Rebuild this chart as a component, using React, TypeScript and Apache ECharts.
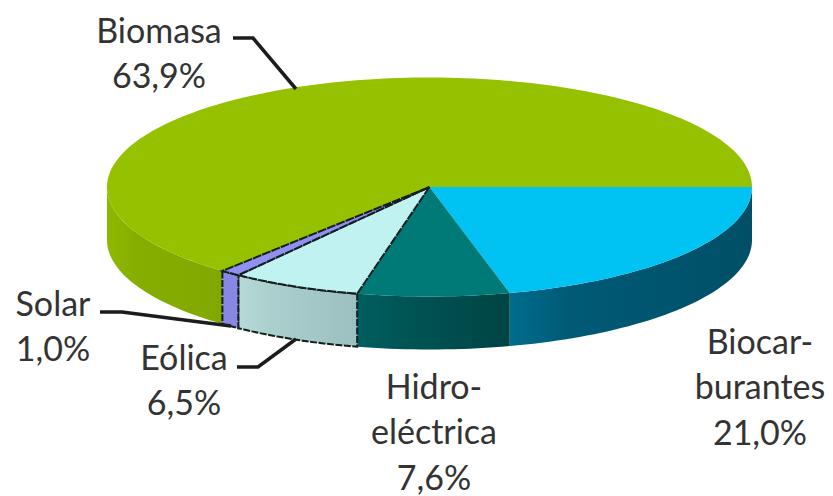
import React, { useEffect, useRef } from "react";
import * as echarts from "echarts";

// Share of each renewable source, in percent, clockwise from Biomasa.
const categories = ["Biomasa", "Biocarburantes", "Hidroeléctrica", "Eólica", "Solar"];
const shares = [63.9, 21.0, 7.6, 6.5, 1.0];
const labelNames = [["Biomasa"], ["Biocar-", "burantes"], ["Hidro-", "eléctrica"], ["Eólica"], ["Solar"]];

const topColors = ["#95C100", "#00C3F3", "#007A77", "#BFF2F0", "#9090F0"];
const sideStops = [
  ["#8FB800", "#86AE00", "#80A800"],
  ["#006C8E", "#005A76", "#004F66"],
  ["#005F5F", "#005656", "#004444"],
  ["#B6DAD8", "#ACD0CE", "#9CBFBF"],
  ["#8A86E4", "#8A86E4", "#8A86E4"],
];
const outlined = [false, false, false, true, true];

// Layout of the tilted disc and its labels, in pixels.
const CX = 429.5;
const CY = 187;
const RX = 322.5;
const RY = 109.5;
const DEPTH = 53;
const labelCentres = [
  [159, 29],
  [760, 340],
  [434, 385],
  [184, 356],
  [53, 302],
];
const LINE_STEP = 45.5;
const leaders = [
  [[233, 38], [253, 38], [296, 89]],
  [[100, 312], [122, 312], [231, 326]],
  [[237, 367], [258, 367], [296, 339]],
];

const total = shares.reduce((a, b) => a + b, 0);
const startAngle = 360 - (shares[0] / total) * 360;

const rim = (deg: number, dy = 0): number[] => {
  const r = (deg * Math.PI) / 180;
  return [CX + RX * Math.cos(r), CY + RY * Math.sin(r) + dy];
};

const arcPoints = (from: number, to: number, dy = 0): number[][] => {
  const n = Math.max(2, Math.ceil((to - from) / 1.5));
  const pts: number[][] = [];
  for (let i = 0; i <= n; i++) pts.push(rim(from + ((to - from) * i) / n, dy));
  return pts;
};

const renderSlice = (params: any, api: any) => {
  const i = params.dataIndex;
  const before = shares.slice(0, i).reduce((a, b) => a + b, 0);
  const a0 = startAngle + (before / total) * 360;
  const a1 = a0 + (api.value(0) / total) * 360;
  const edge = outlined[i]
    ? { stroke: "#141E1E", lineWidth: 2, lineDash: [7, 1.5] }
    : { stroke: "none" };
  const children: any[] = [];

  // Only the front half of the rim shows a wall.
  for (const offset of [0, 360]) {
    const from = Math.max(a0, offset);
    const to = Math.min(a1, offset + 180);
    if (to <= from) continue;
    const stops = sideStops[i];
    children.push({
      type: "polygon",
      shape: { points: [...arcPoints(from, to), ...arcPoints(from, to, DEPTH).reverse()] },
      style: {
        fill: new echarts.graphic.LinearGradient(1, 0, 0, 0, [
          { offset: 0, color: stops[2] },
          { offset: 0.75, color: stops[1] },
          { offset: 1, color: stops[0] },
        ]),
        ...edge,
      },
    });
  }
  children.push({
    type: "polygon",
    shape: { points: [[CX, CY], ...arcPoints(a0, a1)] },
    style: { fill: topColors[i], ...edge, ...(outlined[i] ? { lineDash: [9, 1] } : {}) },
  });
  return { type: "group", children };
};

const percentText = (v: number) => `${v.toFixed(1).replace(".", ",")}%`;

const labelGraphics = () =>
  categories.flatMap((_, i) =>
    [...labelNames[i], percentText(shares[i])].map((text, line) => ({
      type: "text",
      silent: true,
      style: {
        text,
        x: labelCentres[i][0],
        y: labelCentres[i][1] + line * LINE_STEP,
        textAlign: "center",
        textVerticalAlign: "middle",
        font: '34px Lato, "Open Sans", sans-serif',
        fill: "#333333",
      },
    })),
  );

const leaderGraphics = () =>
  leaders.map((points) => ({
    type: "polyline",
    silent: true,
    shape: { points },
    style: { stroke: "#1C1C1C", lineWidth: 3.5, fill: "none" },
    z: 5,
  }));

export default function App() {
  const ref = useRef<HTMLDivElement>(null);

  useEffect(() => {
    document.body.style.margin = "0";
    const chart = echarts.init(ref.current!, undefined, { renderer: "svg" });
    chart.setOption({
      animation: false,
      backgroundColor: "#FFFFFF",
      series: [
        {
          type: "custom",
          coordinateSystem: "none",
          renderItem: renderSlice,
          data: shares.map((value, i) => ({ name: categories[i], value: [value] })),
          silent: true,
        },
      ],
      graphic: [...leaderGraphics(), ...labelGraphics()],
    });
    return () => chart.dispose();
  }, []);

  return <div ref={ref} style={{ width: 833, height: 496 }} />;
}
